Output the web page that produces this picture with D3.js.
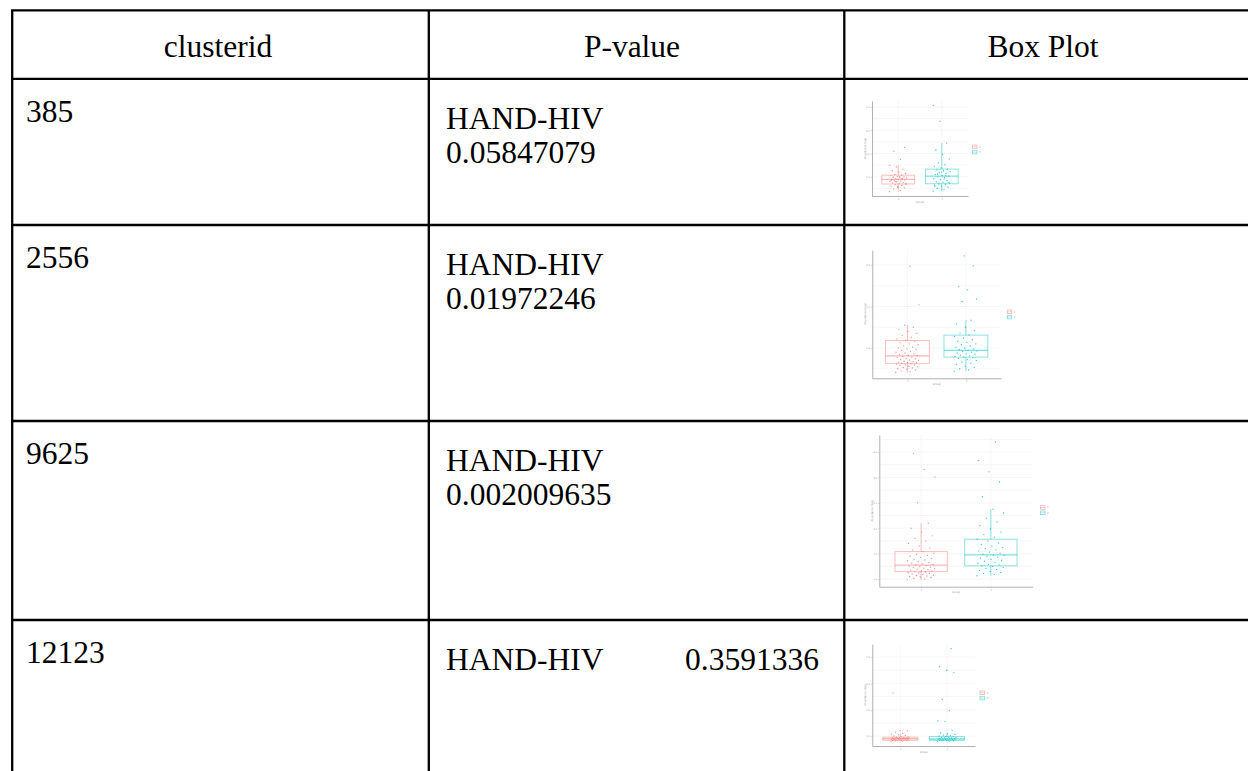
<!DOCTYPE html>
<html>
<head>
<meta charset="utf-8">
<script src="https://cdn.jsdelivr.net/npm/d3@7"></script>
<style>
  html, body { margin: 0; padding: 0; background: #fff; }
  svg { display: block; }
</style>
</head>
<body>
<svg id="tbl" width="1248" height="771"></svg>
<script>
// ---- table content ----
const headers = ["clusterid", "P-value", "Box Plot"];
const clusterIds = ["385", "2556", "9625", "12123"];
const contrastLabel = "HAND-HIV";
const pValues = ["0.05847079", "0.01972246", "0.002009635", "0.3591336"];
const groups = ["1", "2"];

// ---- box plot summaries per cluster: [lower whisker, Q1, median, Q3, upper whisker] per group ----
const stats385 = [[0.36, 0.69, 0.89, 1.07, 1.50], [0.38, 0.70, 1.03, 1.33, 2.45]];
const stats2556 = [[0.41, 0.63, 0.81, 1.18, 1.55], [0.44, 0.78, 0.94, 1.31, 1.67]];
const stats9625 = [[0.97, 1.29, 1.55, 2.08, 3.20], [1.13, 1.52, 1.95, 2.57, 3.75]];
const stats12123 = [[0.80, 0.84, 0.90, 0.96, 1.10], [0.80, 0.84, 0.89, 0.98, 1.12]];

// ---- individual sample values per cluster and group ----
const pts385g1 = [0.36, 0.42, 0.48, 0.52, 0.55, 0.60, 0.63, 0.66, 0.69, 0.71, 0.74, 0.76, 0.78, 0.80, 0.82,
  0.84, 0.86, 0.88, 0.89, 0.90, 0.92, 0.94, 0.96, 0.98, 1.00, 1.02, 1.05, 1.07, 1.10, 1.14, 1.20, 1.26,
  1.33, 1.42, 1.50, 1.75, 2.10, 2.26, 0.58, 0.85, 0.93, 0.79, 0.70, 1.01];
const pts385g2 = [0.38, 0.45, 0.50, 0.55, 0.60, 0.64, 0.68, 0.70, 0.73, 0.77, 0.80, 0.84, 0.88, 0.92, 0.96,
  1.00, 1.03, 1.06, 1.10, 1.14, 1.18, 1.22, 1.26, 1.30, 1.33, 1.38, 1.45, 1.52, 1.60, 1.76, 1.96, 2.15,
  2.45, 3.39, 4.07, 0.90, 1.12, 0.75, 1.20, 0.58, 1.05];
const pts2556g1 = [0.41, 0.43, 0.45, 0.47, 0.49, 0.50, 0.52, 0.53, 0.55, 0.56, 0.58, 0.59, 0.60, 0.61, 0.62,
  0.63, 0.64, 0.65, 0.66, 0.67, 0.68, 0.70, 0.71, 0.72, 0.74, 0.75, 0.77, 0.78, 0.80, 0.81, 0.82, 0.84,
  0.86, 0.88, 0.90, 0.92, 0.94, 0.96, 0.98, 1.00, 1.02, 1.05, 1.08, 1.10, 1.13, 1.16, 1.18, 1.22, 1.26,
  1.30, 1.35, 1.40, 1.45, 1.50, 1.55, 2.04, 2.97];
const pts2556g2 = [0.44, 0.47, 0.50, 0.53, 0.56, 0.60, 0.63, 0.66, 0.70, 0.72, 0.75, 0.77, 0.78, 0.80, 0.81,
  0.83, 0.85, 0.86, 0.88, 0.90, 0.92, 0.93, 0.94, 0.96, 0.98, 1.00, 1.02, 1.05, 1.08, 1.10, 1.13, 1.16,
  1.20, 1.24, 1.28, 1.31, 1.36, 1.42, 1.50, 1.58, 1.67, 2.12, 2.18, 2.40, 2.48, 2.98, 3.22];
const pts9625g1 = [0.97, 1.00, 1.03, 1.06, 1.08, 1.10, 1.12, 1.14, 1.16, 1.18, 1.20, 1.22, 1.24, 1.26, 1.28,
  1.29, 1.31, 1.33, 1.35, 1.37, 1.39, 1.41, 1.43, 1.45, 1.47, 1.49, 1.51, 1.53, 1.55, 1.57, 1.60, 1.63,
  1.66, 1.69, 1.72, 1.75, 1.78, 1.81, 1.85, 1.89, 1.93, 1.97, 2.02, 2.08, 2.15, 2.22, 2.30, 2.40, 2.50,
  2.60, 2.70, 2.85, 3.00, 3.20, 4.00, 5.02, 5.31, 5.94];
const pts9625g2 = [1.13, 1.18, 1.22, 1.26, 1.30, 1.34, 1.38, 1.42, 1.46, 1.50, 1.52, 1.55, 1.58, 1.62, 1.66,
  1.70, 1.74, 1.78, 1.82, 1.86, 1.90, 1.93, 1.95, 1.98, 2.02, 2.06, 2.10, 2.15, 2.20, 2.25, 2.30, 2.36,
  2.42, 2.50, 2.57, 2.65, 2.75, 2.85, 2.97, 3.10, 3.25, 3.40, 3.60, 3.75, 4.24, 4.82, 5.22, 5.67, 6.40];
const pts12123g1 = [0.80, 0.81, 0.82, 0.83, 0.84, 0.84, 0.85, 0.85, 0.86, 0.86, 0.87, 0.87, 0.88, 0.88, 0.89,
  0.89, 0.90, 0.90, 0.90, 0.91, 0.91, 0.92, 0.92, 0.93, 0.93, 0.94, 0.94, 0.95, 0.96, 0.97, 0.98, 1.00,
  1.02, 1.05, 1.08, 1.10, 1.15, 1.20, 1.21, 2.64];
const pts12123g2 = [0.80, 0.81, 0.82, 0.83, 0.84, 0.84, 0.85, 0.85, 0.86, 0.86, 0.87, 0.87, 0.88, 0.88, 0.89,
  0.89, 0.90, 0.90, 0.91, 0.92, 0.93, 0.94, 0.95, 0.96, 0.97, 0.98, 1.00, 1.02, 1.04, 1.07, 1.09, 1.12,
  1.22, 1.56, 1.58, 1.97, 2.39, 3.42, 3.50, 3.64, 4.32];

const yTicks385 = [1, 2, 3, 4];
const yTicks2556 = [1, 2, 3];
const yTicks9625 = [1, 2, 3, 4, 5, 6];
const yTicks12123 = [1, 2, 3, 4];

// ---- layout ----
const svg = d3.select("#tbl");
const colX = [12.2, 428.8, 844.3];
const rowY = [10.3, 78.8, 225, 421, 620];
const serif = "'Liberation Serif', 'Times New Roman', serif";
const fontPx = 31.5;
const groupColors = ["#F8766D", "#00BFC4"];

// table rules
const rules = svg.append("g").attr("stroke", "#000").attr("stroke-width", 2.3);
rules.selectAll("line.h").data(rowY).join("line")
  .attr("class", "h").attr("x1", colX[0] - 1.1).attr("x2", 1248)
  .attr("y1", d => d).attr("y2", d => d);
rules.selectAll("line.v").data(colX).join("line")
  .attr("class", "v").attr("x1", d => d).attr("x2", d => d)
  .attr("y1", rowY[0]).attr("y2", 771);

// header row
const headerCenters = [218, 632, 1043];
svg.append("g").selectAll("text").data(headers).join("text")
  .attr("x", (d, i) => headerCenters[i]).attr("y", 57)
  .attr("text-anchor", "middle")
  .attr("font-family", serif).attr("font-size", fontPx).attr("fill", "#000")
  .text(d => d);

// body rows
const body = svg.append("g").attr("font-family", serif).attr("font-size", fontPx).attr("fill", "#000");
clusterIds.forEach((id, i) => {
  const top = rowY[i + 1];
  body.append("text").attr("x", 26).attr("y", top + 43).text(id);
  body.append("text").attr("x", 446).attr("y", top + 50).text(contrastLabel);
  if (i === clusterIds.length - 1) {
    body.append("text").attr("x", 685).attr("y", top + 50).text(pValues[i]);
  } else {
    body.append("text").attr("x", 446).attr("y", top + 84).text(pValues[i]);
  }
});

// ---- small box plot thumbnails ----
function drawThumb(frame, stats, pts, ticks) {
  const g = svg.append("g");
  const allVals = pts.flat().concat(stats.flat());
  const [mn, mx] = d3.extent(allVals);
  const pad = (mx - mn) * 0.05;
  const y = d3.scaleLinear().domain([mn - pad, mx + pad]).range([frame.bottom, frame.top]);
  const x = d3.scaleLinear().domain([0.4, 2.6]).range([frame.left, frame.right]);

  // grid: minor lines halfway between major ticks
  const step = ticks[1] - ticks[0];
  const [d0, d1] = y.domain();
  const gridVals = d3.range(Math.ceil(d0 / (step / 2)) * (step / 2), d1, step / 2);
  g.append("g").selectAll("line").data(gridVals).join("line")
    .attr("x1", frame.left).attr("x2", frame.right)
    .attr("y1", d => y(d)).attr("y2", d => y(d))
    .attr("stroke", "#e8e8e8").attr("stroke-width", 0.6).attr("stroke-dasharray", "1.2,0.8");
  g.append("g").selectAll("line").data([1, 2]).join("line")
    .attr("x1", d => x(d)).attr("x2", d => x(d))
    .attr("y1", frame.top).attr("y2", frame.bottom)
    .attr("stroke", "#e8e8e8").attr("stroke-width", 0.6).attr("stroke-dasharray", "1.2,0.8");

  // axes
  const yAxis = g.append("g").attr("transform", `translate(${frame.left},0)`)
    .call(d3.axisLeft(y).tickValues(ticks).tickSize(1.2).tickSizeOuter(0).tickPadding(1));
  const xAxis = g.append("g").attr("transform", `translate(0,${frame.bottom})`)
    .call(d3.axisBottom(x).tickValues([1, 2]).tickFormat(d => groups[d - 1])
      .tickSize(1.2).tickSizeOuter(0).tickPadding(1));
  [yAxis, xAxis].forEach(a => {
    a.select(".domain").attr("stroke", "#a8a8a8").attr("stroke-width", 0.9);
    a.selectAll(".tick line").attr("stroke", "#a8a8a8").attr("stroke-width", 0.5);
    a.selectAll(".tick text").attr("fill", "#9a9a9a").attr("font-size", 2.4)
      .attr("font-family", "'DejaVu Sans', sans-serif");
  });

  // axis titles
  g.append("text").attr("x", (frame.left + frame.right) / 2).attr("y", frame.bottom + 6.5)
    .attr("text-anchor", "middle").attr("font-size", 2.6).attr("fill", "#9a9a9a")
    .attr("font-family", "'DejaVu Sans', sans-serif").text("Group");
  g.append("text")
    .attr("transform", `translate(${frame.left - 6},${(frame.top + frame.bottom) / 2}) rotate(-90)`)
    .attr("text-anchor", "middle").attr("font-size", 2.6).attr("fill", "#9a9a9a")
    .attr("font-family", "'DejaVu Sans', sans-serif").text("Abundance (log)");

  const boxW = 0.75;
  stats.forEach((s, gi) => {
    const [lo, q1, med, q3, hi] = s;
    const cx = gi + 1;
    const col = groupColors[gi];
    const bg = g.append("g").attr("stroke", col).attr("fill", "none")
      .attr("stroke-opacity", 0.5).attr("stroke-width", 0.9);
    bg.append("line").attr("x1", x(cx)).attr("x2", x(cx)).attr("y1", y(q3)).attr("y2", y(hi));
    bg.append("line").attr("x1", x(cx)).attr("x2", x(cx)).attr("y1", y(q1)).attr("y2", y(lo));
    bg.append("rect").attr("x", x(cx - boxW / 2)).attr("width", x(cx + boxW / 2) - x(cx - boxW / 2))
      .attr("y", y(q3)).attr("height", Math.max(0.8, y(q1) - y(q3)));
    bg.append("line").attr("x1", x(cx - boxW / 2)).attr("x2", x(cx + boxW / 2))
      .attr("y1", y(med)).attr("y2", y(med)).attr("stroke-width", 1.3);

    // jittered samples (deterministic spread around the group centre)
    g.append("g").selectAll("circle").data(pts[gi]).join("circle")
      .attr("cx", (d, i) => x(cx + (((i * 0.618034) % 1) - 0.5) * 0.4))
      .attr("cy", d => y(d))
      .attr("r", 0.65)
      .attr("fill", col).attr("fill-opacity", 0.85);
  });

  // legend
  const lg = g.append("g").attr("transform", `translate(${frame.legX},${frame.legY})`);
  groups.forEach((name, gi) => {
    const k = lg.append("g").attr("transform", `translate(0,${gi * 5.3})`);
    k.append("rect").attr("width", 4.5).attr("height", 3.6).attr("fill", "#fff")
      .attr("stroke", groupColors[gi]).attr("stroke-opacity", 0.5).attr("stroke-width", 0.8);
    k.append("line").attr("x1", 0).attr("x2", 4.5).attr("y1", 1.8).attr("y2", 1.8)
      .attr("stroke", groupColors[gi]).attr("stroke-opacity", 0.5).attr("stroke-width", 0.7);
    k.append("text").attr("x", 6.5).attr("y", 2.8).attr("font-size", 2.6).attr("fill", "#9a9a9a")
      .attr("font-family", "'DejaVu Sans', sans-serif").text(name);
  });
}

drawThumb({ left: 872, right: 968, top: 101, bottom: 196, legX: 972.5, legY: 145 },
  stats385, [pts385g1, pts385g2], yTicks385);
drawThumb({ left: 872.3, right: 1001, top: 250, bottom: 378.3, legX: 1007.3, legY: 310 },
  stats2556, [pts2556g1, pts2556g2], yTicks2556);
drawThumb({ left: 879.3, right: 1032.7, top: 435, bottom: 586.7, legX: 1040.5, legY: 505.7 },
  stats9625, [pts9625g1, pts9625g2], yTicks9625);
drawThumb({ left: 872.3, right: 975, top: 644, bottom: 746, legX: 980, legY: 691 },
  stats12123, [pts12123g1, pts12123g2], yTicks12123);
</script>
</body>
</html>
